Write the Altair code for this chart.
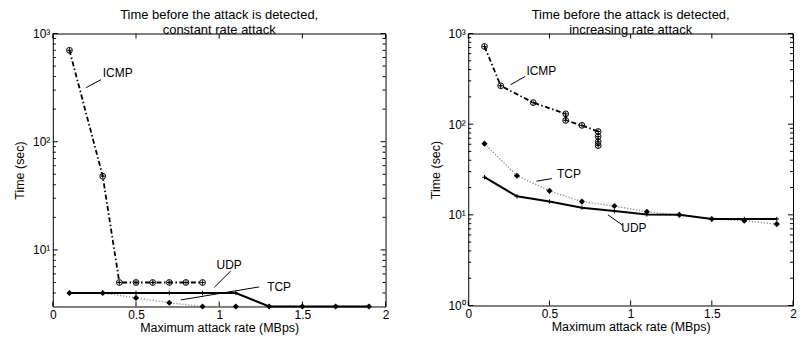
import altair as alt
import pandas as pd

FONT = "Liberation Sans"

# ---------------- data: constant rate attack (left) ----------------
c_icmp_x = [0.1, 0.3, 0.4, 0.5, 0.6, 0.7, 0.8, 0.9]
c_icmp_y = [700, 48, 5, 5, 5, 5, 5, 5]
c_tcp_x = [0.1, 0.3, 0.5, 0.7, 0.9, 1.1, 1.3, 1.5, 1.7, 1.9]
c_tcp_y = [4, 4, 3.6, 3.25, 3, 3, 3, 3, 3, 3]
c_udp_x = [0.1, 0.3, 0.5, 0.7, 0.9, 1.1, 1.3, 1.5, 1.7, 1.9]
c_udp_y = [4, 4, 4, 4, 4, 4, 3, 3, 3, 3]

# ---------------- data: increasing rate attack (right) ----------------
i_icmp_x = [0.1, 0.2, 0.4, 0.6, 0.6, 0.7, 0.8, 0.8, 0.8, 0.8]
i_icmp_y = [720, 265, 173, 130, 110, 97, 83, 73, 64, 58]
i_tcp_x = [0.1, 0.3, 0.5, 0.7, 0.9, 1.1, 1.3, 1.5, 1.7, 1.9]
i_tcp_y = [61, 27, 18.4, 14, 12.5, 10.8, 10, 9, 8.6, 7.9]
i_udp_x = [0.1, 0.3, 0.5, 0.7, 0.9, 1.1, 1.3, 1.5, 1.7, 1.9]
i_udp_y = [26, 16, 14, 12, 11, 10.1, 10, 9, 9, 9]

# annotations: label, text x, text y, leader x1, y1, x2, y2
c_labels = ["ICMP", "UDP", "TCP"]
c_label_x = [0.39, 1.06, 1.36]
c_label_y = [430, 7.2, 4.5]
c_lead_x1 = [0.2, 0.97, 0.77]
c_lead_y1 = [316, 4.5, 3.45]
c_lead_x2 = [0.29, 1.07, 1.24]
c_lead_y2 = [375, 6.4, 4.55]

i_labels = ["ICMP", "TCP", "UDP"]
i_label_x = [0.45, 0.62, 1.02]
i_label_y = [390, 28, 7.2]
i_lead_x1 = [0.26, 0.42, 0.86]
i_lead_y1 = [272, 23.5, 10]
i_lead_x2 = [0.35, 0.515, 0.95]
i_lead_y2 = [336, 25.1, 7.7]

x_ticks = [0, 0.5, 1, 1.5, 2]
c_major = [10, 100, 1000]
c_minor = [4, 5, 6, 7, 8, 9, 20, 30, 40, 50, 60, 70, 80, 90,
           200, 300, 400, 500, 600, 700, 800, 900]
i_major = [1, 10, 100, 1000]
i_minor = [2, 3, 4, 5, 6, 7, 8, 9, 20, 30, 40, 50, 60, 70, 80, 90,
           200, 300, 400, 500, 600, 700, 800, 900]

PLUS = "M-1,0L1,0M0,-1L0,1"
LABEL_EXPR = ("datum.value == 1 ? '10⁰' : datum.value == 10 ? '10¹' : "
              "datum.value == 100 ? '10²' : '10³'")


def series_df(xs, ys):
    return pd.DataFrame({"x": xs, "y": ys, "i": list(range(len(xs)))})


def panel(icmp, tcp, udp, ydom, major, minor, title, labels, W, H, toff):
    xs = alt.Scale(domain=[0, 2], nice=False, zero=False)
    ys = alt.Scale(type="log", domain=ydom, nice=False, zero=False)
    xax = alt.Axis(values=x_ticks, labelExpr="datum.value + ''", ticks=False,
                   domain=False, grid=False, labelFontSize=12, labelPadding=3,
                   labelFlush=False, labelOverlap=False,
                   title="Maximum attack rate (MBps)", titleFontSize=12.5,
                   titleFontWeight="normal", titlePadding=1, labelFont=FONT,
                   titleFont=FONT, labelColor="black", titleColor="black")
    yax = alt.Axis(values=major, labelExpr=LABEL_EXPR, ticks=False,
                   domain=False, grid=False, labelFontSize=12, labelPadding=3,
                   labelFlush=False, labelOverlap=False,
                   title="Time (sec)", titleFontSize=12.5,
                   titleFontWeight="normal", titlePadding=6, labelFont=FONT,
                   titleFont=FONT, labelColor="black", titleColor="black")

    X = alt.X("x:Q", scale=xs, axis=xax)
    Y = alt.Y("y:Q", scale=ys, axis=yax)

    dI = series_df(*icmp)
    dT = series_df(*tcp)
    dU = series_df(*udp)

    tcp_line = alt.Chart(dT).mark_line(color="#8c8c8c", strokeWidth=1.4,
                                       strokeDash=[1.2, 1.8]).encode(
        x=X, y=Y, order="i:Q")
    udp_line = alt.Chart(dU).mark_line(color="black", strokeWidth=2).encode(
        x=X, y=Y, order="i:Q")
    icmp_line = alt.Chart(dI).mark_line(color="black", strokeWidth=1.8,
                                        strokeDash=[5, 2.5, 1.5, 2.5]).encode(
        x=X, y=Y, order="i:Q")

    tcp_pts = alt.Chart(dT).mark_point(shape="diamond", filled=True,
                                       color="black", size=38, opacity=1).encode(x=X, y=Y)
    udp_pts = alt.Chart(dU).mark_point(shape=PLUS, filled=False, color="black",
                                       size=20, strokeWidth=1, opacity=1).encode(x=X, y=Y)
    icmp_c = alt.Chart(dI).mark_point(shape="circle", filled=False, color="black",
                                      size=34, strokeWidth=1, opacity=1).encode(x=X, y=Y)
    icmp_p = alt.Chart(dI).mark_point(shape=PLUS, filled=False, color="black",
                                      size=20, strokeWidth=1, opacity=1).encode(x=X, y=Y)

    lab, lx, ly, x1, y1, x2, y2 = labels
    dl = pd.DataFrame({"t": lab, "x": lx, "y": ly})
    dlead = pd.DataFrame({"x": x1, "y": y1, "x2": x2, "y2": y2})
    texts = alt.Chart(dl).mark_text(font=FONT, fontSize=12, color="black",
                                    align="center", baseline="middle").encode(
        x=X, y=Y, text="t:N")
    leads = alt.Chart(dlead).mark_rule(color="black", strokeWidth=1).encode(
        x=X, y=Y, x2="x2:Q", y2="y2:Q")

    # inward tick marks (box style)
    dmaj = pd.DataFrame({"y": major})
    dmin = pd.DataFrame({"y": minor})
    dxt = pd.DataFrame({"x": x_ticks})
    tk = dict(color="black", strokeWidth=1)
    ticks = [
        alt.Chart(dmaj).mark_rule(**tk).encode(y=Y, x=alt.value(0), x2=alt.value(5)),
        alt.Chart(dmaj).mark_rule(**tk).encode(y=Y, x=alt.value(W), x2=alt.value(W - 5)),
        alt.Chart(dmin).mark_rule(**tk).encode(y=Y, x=alt.value(0), x2=alt.value(3)),
        alt.Chart(dmin).mark_rule(**tk).encode(y=Y, x=alt.value(W), x2=alt.value(W - 3)),
        alt.Chart(dxt).mark_rule(**tk).encode(x=X, y=alt.value(H), y2=alt.value(H - 5)),
        alt.Chart(dxt).mark_rule(**tk).encode(x=X, y=alt.value(0), y2=alt.value(5)),
    ]

    layers = ticks + [tcp_line, udp_line, icmp_line, leads,
                      tcp_pts, udp_pts, icmp_c, icmp_p, texts]
    return alt.layer(*layers).properties(
        width=W, height=H,
        title=alt.TitleParams(text=title, fontSize=13, fontWeight="normal",
                              font=FONT, anchor="middle", offset=toff,
                              lineHeight=14.5, color="black"),
    )


left = panel((c_icmp_x, c_icmp_y), (c_tcp_x, c_tcp_y), (c_udp_x, c_udp_y),
             [3, 1000], c_major, c_minor,
             ["Time before the attack is detected,", "constant rate attack"],
             (c_labels, c_label_x, c_label_y, c_lead_x1, c_lead_y1, c_lead_x2, c_lead_y2),
             334, 274, -9)
right = panel((i_icmp_x, i_icmp_y), (i_tcp_x, i_tcp_y), (i_udp_x, i_udp_y),
              [1, 1000], i_major, i_minor,
              ["Time before the attack is detected,", "increasing rate attack"],
              (i_labels, i_label_x, i_label_y, i_lead_x1, i_lead_y1, i_lead_x2, i_lead_y2),
              326, 273, -9)

chart = alt.hconcat(left, right, spacing=39).properties(
    padding={"left": 5, "top": 0, "right": 0, "bottom": 0},
    background="white",
).configure_view(stroke="black", strokeWidth=1)

chart.save("out.html", embed_options={"renderer": "svg", "actions": False})
